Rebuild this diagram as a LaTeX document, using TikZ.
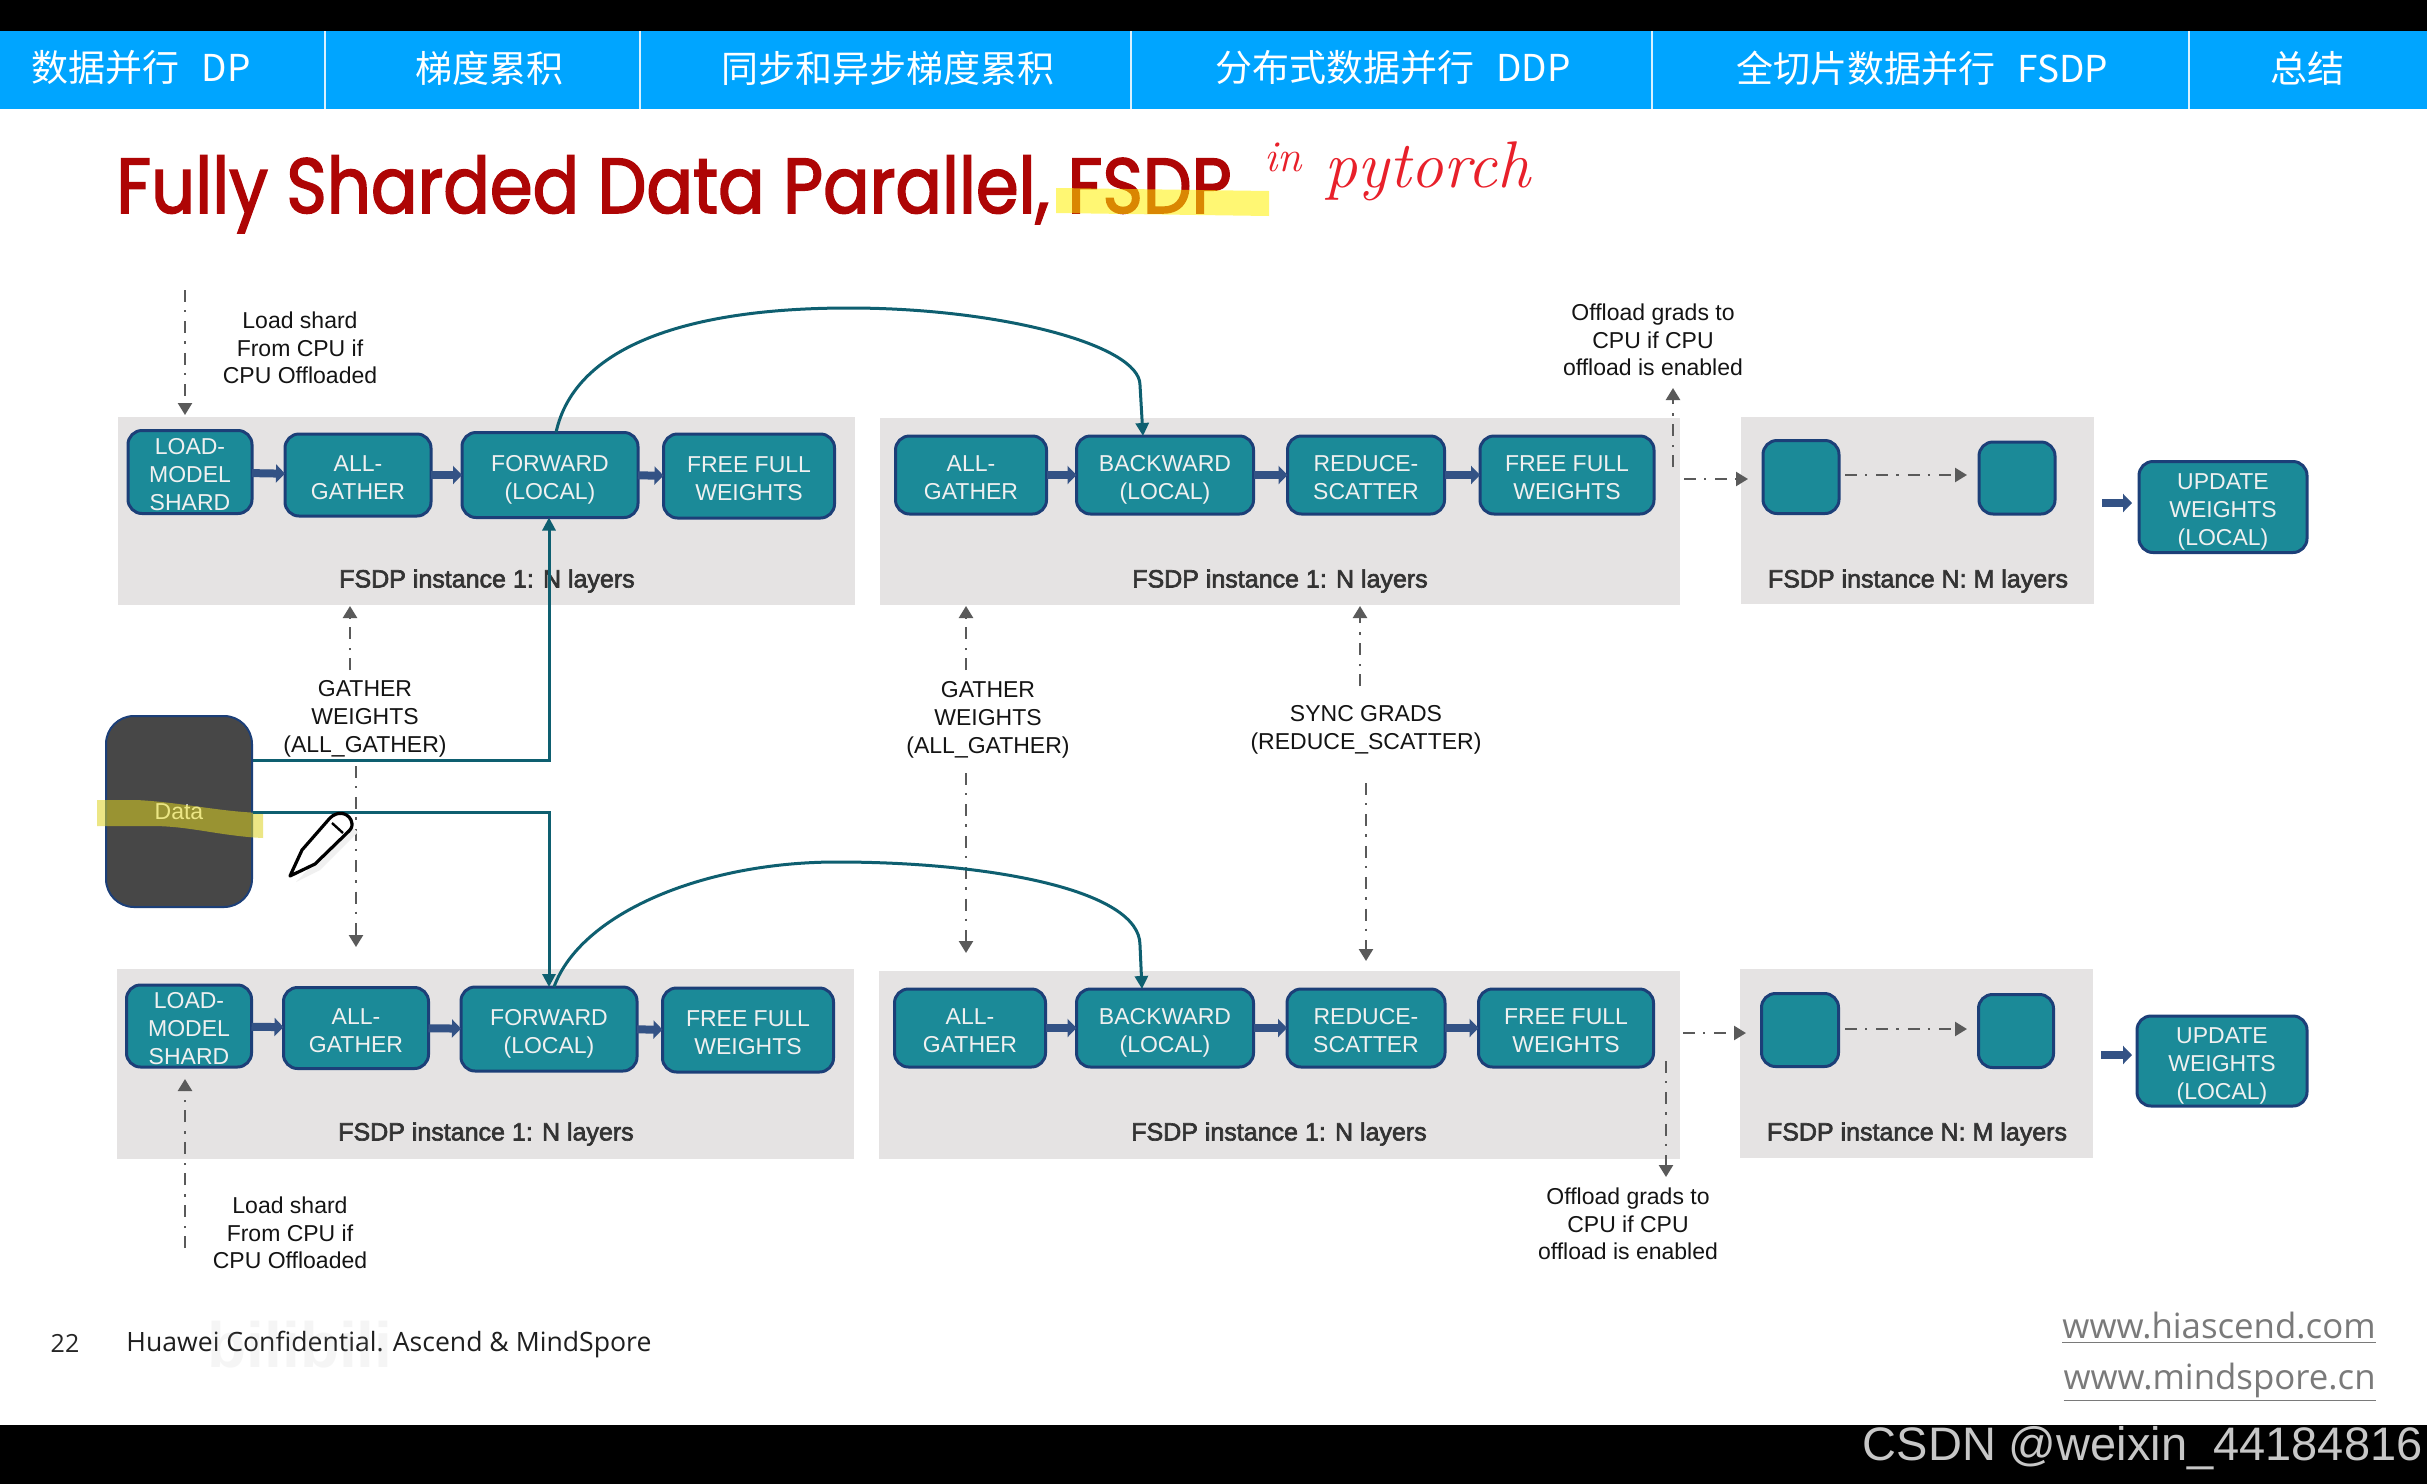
\documentclass[tikz,border=0pt]{standalone}
\usepackage{fontspec}
\usetikzlibrary{arrows.meta}
\setmainfont{Liberation Sans}
\newfontfamily\tabfont{Noto Sans CJK SC}
\newfontfamily\titlefont[FakeStretch=0.884,FakeBold=2]{Poppins}
\newfontfamily\panelfont[FakeBold=2.5]{Liberation Sans}
\newfontfamily\footfont{Open Sans}
\newfontfamily\inkfont{Latin Modern Roman}
\definecolor{tabblue}{HTML}{00A5FF}
\definecolor{titlered}{HTML}{AE0505}
\definecolor{inkred}{HTML}{E8202A}
\definecolor{panelgrey}{HTML}{E5E3E3}
\definecolor{stagefill}{HTML}{1B8A98}
\definecolor{stageline}{HTML}{1C3F78}
\definecolor{flowteal}{HTML}{0E5F70}
\definecolor{dashgrey}{HTML}{5A5A5A}
\tikzset{
  stage/.style = {draw=stageline, line width=1.5pt, fill=stagefill, rounded corners=7pt,
    inner sep=0pt, outer sep=0pt, text=white!94!black,
    font=\fontsize{11.5}{13.85}\selectfont},
  note/.style = {align=center, inner sep=0pt, text=black!92,
    font=\fontsize{11.5}{13.85}\selectfont},
  panellabel/.style = {inner sep=0pt, text=black!80, font=\panelfont\fontsize{12.5}{15}\selectfont},
  tablabel/.style = {inner sep=0pt, text=white, font=\tabfont\fontsize{18.5}{20}\selectfont},
  thickarrow/.style = {draw=stageline!90!white, line width=4pt, -{Triangle[length=4.5pt,width=9pt]}},
  dashflow/.style = {draw=dashgrey, line width=1.2pt, dash pattern=on 6pt off 4pt on 1.2pt off 4.5pt,
    -{Triangle[length=6pt,width=7pt]}},
  tealflow/.style = {draw=flowteal, line width=1.5pt, -{Triangle[length=6.5pt,width=6.5pt]}},
}
\begin{document}
\begin{tikzpicture}[x=.5pt, y=-.5pt]
  \useasboundingbox (0,0) rectangle (2427,1484);
  \fill[white] (0,0) rectangle (2427,1484);

  \fill[black] (0,0) rectangle (2427,31);
  \fill[tabblue] (0,31) rectangle (2427,109);
  \foreach \sepx in {325,640,1131,1652,2189}
    \draw[white!85!tabblue, line width=1.2pt] (\sepx,31) -- (\sepx,109);
  \node[tablabel] (tabdp) at (141,68) {数据并行 \hspace{7pt}DP};
  \node[tablabel] (tabaccum) at (489,68) {梯度累积};
  \node[tablabel] (tabsync) at (888,68) {同步和异步梯度累积};
  \node[tablabel] (tabddp) at (1393,68) {分布式数据并行 \hspace{7pt}DDP};
  \node[tablabel] (tabfsdp) at (1922,68) {全切片数据并行 \hspace{7pt}FSDP};
  \node[tablabel] (tabsum) at (2307,68) {总结};
  \fill[black] (0,1425) rectangle (2427,1484);

  \node[anchor=base west, inner sep=0pt, text=titlered, font=\titlefont\fontsize{39}{44}\selectfont]
    (title) at (116,213) {Fully Sharded Data Parallel, FSDP};
  \fill[yellow, opacity=.55] (1056,188) -- (1269,191) -- (1269,216) -- (1056,213) -- cycle;
  \node[anchor=base west, inner sep=0pt, text=inkred, font=\inkfont\itshape\fontsize{33}{35}\selectfont]
    (ink) at (1264,187) {\raisebox{8pt}{\fontsize{22}{24}\selectfont in} pytorch};

  % grey instance panels
  \foreach \xa/\ya/\xb/\yb in {118/417/855/605, 880/418/1680/605, 1741/417/2094/604,
      117/969/854/1159, 879/971/1680/1159, 1740/969/2093/1158}
    \fill[panelgrey] (\xa,\ya) rectangle (\xb,\yb);

  \foreach \name/\cx/\cy/\bw/\bh/\txt in {
      load1/190/472/124/83/{LOAD-\\MODEL\\SHARD},
      gather1/358/475/146/82/{ALL-\\GATHER},
      forward1/550/475/176/85/{FORWARD\\(LOCAL)},
      free1/749/476/171/84/{FREE FULL\\WEIGHTS},
      gather2/971/475/151/78/{ALL-\\GATHER},
      backward1/1165/475/177/78/{BACKWARD\\(LOCAL)},
      reduce1/1366/475/157/78/{REDUCE-\\SCATTER},
      free2/1567/475/174/78/{FREE FULL\\WEIGHTS},
      small1/1801/477/76/73/{},
      small2/2017/478/76/72/{},
      update1/2223/507/168/91/{UPDATE\\WEIGHTS\\(LOCAL)},
      load2/189/1026/125/82/{LOAD-\\MODEL\\SHARD},
      gather3/356/1028/145/81/{ALL-\\GATHER},
      forward2/549/1029/176/84/{FORWARD\\(LOCAL)},
      free3/748/1030/171/84/{FREE FULL\\WEIGHTS},
      gather4/970/1028/151/78/{ALL-\\GATHER},
      backward2/1165/1028/177/78/{BACKWARD\\(LOCAL)},
      reduce2/1366/1028/158/78/{REDUCE-\\SCATTER},
      free4/1566/1028/175/78/{FREE FULL\\WEIGHTS},
      small3/1800/1030/77/73/{},
      small4/2016/1031/75/73/{},
      update2/2222/1061/170/90/{UPDATE\\WEIGHTS\\(LOCAL)}}
    \node[stage, minimum width=\bw*.5pt, minimum height=\bh*.5pt] (\name) at (\cx,\cy)
      {\raisebox{0pt}[\height][\dimexpr\depth-5pt\relax]{\begin{tabular}{@{}c@{}}\txt\end{tabular}}};

  \foreach \tail/\head in {load1/gather1, gather1/forward1, forward1/free1, gather2/backward1,
      backward1/reduce1, reduce1/free2, load2/gather3, gather3/forward2, forward2/free3,
      gather4/backward2, backward2/reduce2, reduce2/free4}
    \draw[thickarrow] (\tail) -- (\head);

  \coordinate (arrowa) at (2102,503);
  \coordinate (arrowb) at (2132,503);
  \coordinate (arrowc) at (2101,1055);
  \coordinate (arrowd) at (2132,1055);
  \draw[thickarrow] (arrowa) -- (arrowb);
  \draw[thickarrow] (arrowc) -- (arrowd);

  \node[panellabel] (inst1) at (487,581) {FSDP instance 1: N layers};
  \node[panellabel] (inst2) at (1280,581) {FSDP instance 1: N layers};
  \node[panellabel] (inst3) at (1918,581) {FSDP instance N: M layers};
  \node[panellabel] (inst4) at (486,1134) {FSDP instance 1: N layers};
  \node[panellabel] (inst5) at (1279,1134) {FSDP instance 1: N layers};
  \node[panellabel] (inst6) at (1917,1134) {FSDP instance N: M layers};

  \node[draw=stageline, line width=1pt, fill=black!72, rounded corners=14pt, inner sep=0pt,
    minimum width=73pt, minimum height=95.5pt, text=white,
    font=\fontsize{11.5}{13.85}\selectfont] (data) at (179,811.5) {Data};
  \fill[yellow!85!black, opacity=.55] (97,800) -- (136,800) .. controls (180,802) and (220,812) .. (263,813)
    -- (263,838) .. controls (220,836) and (190,826) .. (152,826) -- (97,826) -- cycle;

  \node[note] (loadnote1) at (300,348) {Load shard\\From CPU if\\CPU Offloaded};
  \node[note] (offnote1) at (1653,340) {Offload grads to\\CPU if CPU\\offload is enabled};
  \node[note] (gathernote1) at (365,719) {GATHER\\WEIGHTS\\(ALL\_GATHER)};
  \node[note] (gathernote2) at (988,720) {GATHER\\WEIGHTS\\(ALL\_GATHER)};
  \node[note] (syncnote) at (1366,730) {SYNC GRADS\\(REDUCE\_SCATTER)};
  \node[note] (loadnote2) at (290,1233) {Load shard\\From CPU if\\CPU Offloaded};
  \node[note] (offnote2) at (1628,1224) {Offload grads to\\CPU if CPU\\offload is enabled};

  % free ends of the dashed arrows
  \coordinate (cputop) at (185,290);
  \coordinate (cpuin) at (185,415);
  \coordinate (offa) at (1673,467);
  \coordinate (offb) at (1673,388);
  \coordinate (nexta) at (1684,479);
  \coordinate (nextb) at (1748,479);
  \coordinate (upa) at (350,670);
  \coordinate (upb) at (350,606);
  \coordinate (downa) at (356,766);
  \coordinate (downb) at (356,947);
  \coordinate (upc) at (966,670);
  \coordinate (upd) at (966,606);
  \coordinate (downc) at (966,773);
  \coordinate (downd) at (966,953);
  \coordinate (upe) at (1360,686);
  \coordinate (upf) at (1360,606);
  \coordinate (downe) at (1366,783);
  \coordinate (downf) at (1366,961);
  \coordinate (cpubot) at (185,1248);
  \coordinate (cpuout) at (185,1079);
  \coordinate (offc) at (1666,1061);
  \coordinate (offd) at (1666,1177);
  \coordinate (nextc) at (1683,1033);
  \coordinate (nextd) at (1746,1033);
  \coordinate (stepa) at (1845,475);
  \coordinate (stepb) at (1967,475);
  \coordinate (stepc) at (1845,1029);
  \coordinate (stepd) at (1967,1029);
  \foreach \tail/\head in {cputop/cpuin, offa/offb, nexta/nextb, upa/upb, downa/downb, upc/upd,
      downc/downd, upe/upf, downe/downf, cpubot/cpuout, offc/offd, nextc/nextd, stepa/stepb, stepc/stepd}
    \draw[dashflow] (\tail) -- (\head);

  % data feeds and the skip from forward to backward
  \coordinate (bendup) at (549,760);
  \coordinate (benddown) at (549,812);
  \draw[tealflow] (data.east |- bendup) -- (bendup) -- ([xshift=-.5pt]forward1.south);
  \draw[tealflow] (data.east |- benddown) -- (benddown) -- (forward2.north);
  \draw[tealflow] ([xshift=3pt]forward1.north) .. controls (575,345) and (690,308) .. (849,308)
    .. controls (1000,308) and (1140,345) .. (1140,385) -- ([xshift=-11pt]backward1.north);
  \draw[tealflow] ([xshift=2.5pt]forward2.north) .. controls (580,915) and (700,862) .. (837,862)
    .. controls (990,862) and (1140,890) .. (1140,945) -- ([xshift=-11.5pt]backward2.north);

  % pencil
  \fill[black!6] (296,882) -- (320,870) -- (358,832) -- (350,826) -- cycle;
  \draw[black, line width=1.6pt, fill=white, line join=round]
    (290,876) -- (302,850) -- (330,818) .. controls (337,811) and (347,812) .. (351,820)
    .. controls (353,825) and (352,828) .. (349,831) -- (315,864) -- cycle;
  \draw[black, line width=1.2pt] (332,823) -- (343,833);

  % footer
  \node[inner sep=0pt, text=black!85, font=\footfont\fontsize{12.5}{15}\selectfont] (pagenum) at (65,1343) {22};
  \node[anchor=west, inner sep=0pt, text=black!88, font=\footfont\fontsize{13.3}{16}\selectfont]
    (footer) at (126,1345) {Huawei Confidential. Ascend \& MindSpore};
  \node[inner sep=0pt, opacity=.1, text=black!35, font=\bfseries\fontsize{32}{34}\selectfont]
    (bili) at (300,1345) {bilibili};
  \node[anchor=east, inner sep=0pt, text=black!52, font=\footfont\fontsize{17.4}{20}\selectfont]
    (site1) at (2376,1328) {\underline{www.hiascend.com}};
  \node[anchor=east, inner sep=0pt, text=black!52, font=\footfont\fontsize{17.4}{20}\selectfont]
    (site2) at (2376,1382) {\underline{www.mindspore.cn}};
  \node[anchor=east, inner sep=0pt, text=black!22, font=\fontsize{23.5}{25}\selectfont]
    (csdn) at (2423,1448) {CSDN @weixin\_44184816};
\end{tikzpicture}
\end{document}
